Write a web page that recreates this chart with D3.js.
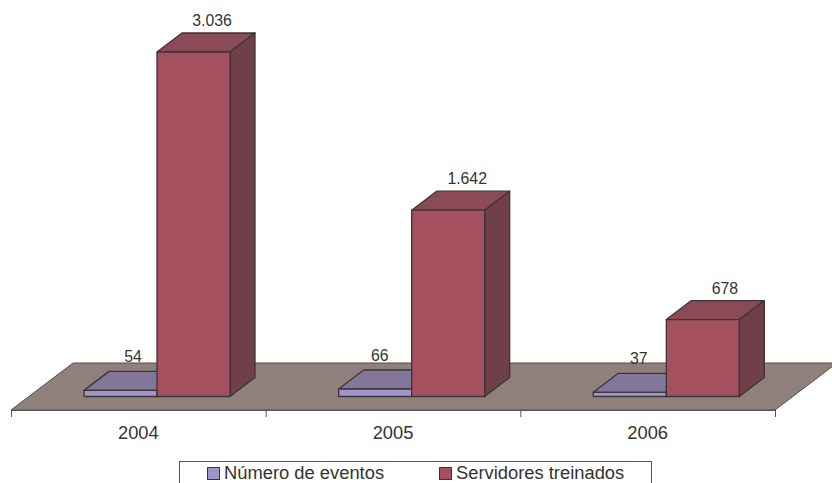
<!DOCTYPE html>
<html>
<head>
<meta charset="utf-8">
<script src="https://d3js.org/d3.v7.min.js"></script>
<style>
body { margin: 0; background: #fff; }
text { font-family: "Liberation Sans", Arial, sans-serif; fill: #333; }
</style>
</head>
<body>
<svg width="832" height="483"></svg>
<script>
var years = ["2004", "2005", "2006"];
var seriesNames = ["Número de eventos", "Servidores treinados"];
var eventos = [54, 66, 37];
var servidores = [3036, 1642, 678];
var labelEventos = ["54", "66", "37"];
var labelServidores = ["3.036", "1.642", "678"];

var svg = d3.select("svg");

// plot frame
var floorLeft = 11, floorRight = 775, floorY = 410, baseY = 396.5;
var floorDepth = [62, -47], barDepth = [25, -19];

// scales
var x = d3.scaleBand().domain(years).range([floorLeft, floorRight]);
var xEdge = d3.scaleLinear().domain([0, 3]).range([floorLeft, floorRight]);
var xSeries = d3.scaleBand().domain(seriesNames).range([73, 219]);
var y = d3.scaleLinear().domain([0, 3036]).range([baseY, 52]);

// floor
svg.append("path")
	.attr("d", d3.line()([
		[floorLeft, floorY],
		[floorRight, floorY],
		[floorRight + floorDepth[0], floorY + floorDepth[1]],
		[floorLeft + floorDepth[0], floorY + floorDepth[1]]
	]) + "Z")
	.style("fill", "#8f807b")
	.style("stroke", "#55504e")
	.style("stroke-width", 1);

// axis ticks at the band edges
var edgeAxis = d3.axisBottom(xEdge).tickValues([0, 1, 2, 3]).tickSize(7).tickFormat("");
var edgeG = svg.append("g").attr("transform", "translate(0," + floorY + ")").call(edgeAxis);
edgeG.selectAll("line").style("stroke", "#555");
edgeG.select(".domain").style("stroke", "#555").attr("d", "M" + floorLeft + ",0.5H" + floorRight);

// axis labels
var labelAxis = d3.axisBottom(x).tickSize(0).tickPadding(0);
var labelG = svg.append("g").attr("transform", "translate(0,425)").call(labelAxis);
labelG.select(".domain").remove();
labelG.selectAll("text")
	.attr("y", 0)
	.attr("dy", "13.7")
	.style("font-size", "18.3px")
	.style("font-family", null);

// draws one 3D bar: top, side and then front
function drawBar(g, x0, w, top, colors) {
	var bottom = baseY;
	var dx = barDepth[0], dy = barDepth[1];
	var faces = [
		{ pts: [[x0, top], [x0 + dx, top + dy], [x0 + w + dx, top + dy], [x0 + w, top]], fill: colors.top },
		{ pts: [[x0 + w, top], [x0 + w + dx, top + dy], [x0 + w + dx, bottom + dy], [x0 + w, bottom]], fill: colors.side },
		{ pts: [[x0, top], [x0 + w, top], [x0 + w, bottom], [x0, bottom]], fill: colors.front }
	];
	g.selectAll("path")
		.data(faces)
		.enter()
		.append("path")
		.attr("d", function (d) { return d3.line()(d.pts) + "Z"; })
		.style("fill", function (d) { return d.fill; })
		.style("stroke", "#3d3438")
		.style("stroke-width", 1.3)
		.style("stroke-linejoin", "round");
}

var purple = { top: "#837799", side: "#6c6280", front: "#9f95c8" };
var red = { top: "#8a4b56", side: "#6f4049", front: "#a4505f" };

// value labels do not sit at the same spot over each bar
var shiftEventos = [49, 41, 45.5];
var shiftServidores = [55, 55.5, 58.5];

// first series in front of floor, second one over it
years.forEach(function (yr, i) {
	var x0 = x(yr) + xSeries(seriesNames[0]);
	drawBar(svg.append("g"), x0, xSeries.bandwidth(), y(eventos[i]), purple);
	svg.append("text")
		.attr("x", x0 + shiftEventos[i])
		.attr("y", y(eventos[i]) + barDepth[1] - 9)
		.attr("text-anchor", "middle")
		.style("font-size", "15.8px")
		.text(labelEventos[i]);
});
years.forEach(function (yr, i) {
	var x0 = x(yr) + xSeries(seriesNames[1]);
	drawBar(svg.append("g"), x0, xSeries.bandwidth(), y(servidores[i]), red);
	svg.append("text")
		.attr("x", x0 + shiftServidores[i])
		.attr("y", y(servidores[i]) + barDepth[1] - 7)
		.attr("text-anchor", "middle")
		.style("font-size", "15.8px")
		.text(labelServidores[i]);
});

// legend, box runs off the bottom of the picture
svg.append("rect")
	.attr("x", 179.5).attr("y", 461.5)
	.attr("width", 472).attr("height", 40)
	.style("fill", "#fff")
	.style("stroke", "#555");

var legendX = [207, 439];
var legendColors = [purple.front, red.front];
seriesNames.forEach(function (name, i) {
	svg.append("rect")
		.attr("x", legendX[i] + 0.5).attr("y", 467.5)
		.attr("width", 12).attr("height", 12)
		.style("fill", legendColors[i])
		.style("stroke", "#3d3438");
	svg.append("text")
		.attr("x", legendX[i] + 17)
		.attr("y", 479)
		.style("font-size", "18.35px")
		.text(name);
});
</script>
</body>
</html>
